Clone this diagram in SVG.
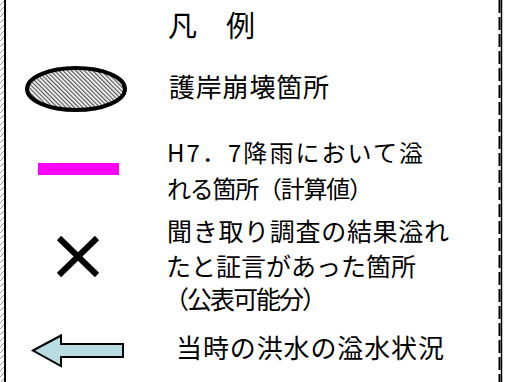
<svg xmlns="http://www.w3.org/2000/svg" width="506" height="382" viewBox="0 0 506 382">
  <style>
    .t { font-family: "Noto Sans CJK JP", "Liberation Sans", sans-serif; fill: #000; }
  </style>
  <defs>
    <pattern id="hatch" width="3" height="3" patternUnits="userSpaceOnUse" patternTransform="rotate(-45)">
      <rect width="3" height="3" fill="#ffffff"/>
      <line x1="0.7" y1="0" x2="0.7" y2="3" stroke="#3a3a3a" stroke-width="1.1"/>
    </pattern>
    <pattern id="maptex" width="4" height="6" patternUnits="userSpaceOnUse">
      <rect width="4" height="6" fill="#ffffff"/>
      <line x1="0" y1="5" x2="4" y2="1" stroke="#555" stroke-width="0.6"/>
    </pattern>
  </defs>
  <rect width="506" height="382" fill="#ffffff"/>
  <g id="frame">
    <rect x="0" y="0" width="4" height="382" fill="url(#maptex)"/>
    <line x1="5" y1="0" x2="5" y2="382" stroke="#000" stroke-width="2"/>
    <line x1="501.5" y1="0" x2="501.5" y2="382" stroke="#000" stroke-width="1.5"/>
    <line x1="499.5" y1="0" x2="499.5" y2="382" stroke="#000" stroke-width="2" stroke-dasharray="13 4"/>
  </g>
  <g id="title">
    <text class="t" x="168" y="36.5" font-size="29">凡　例</text>
  </g>
  <g id="item-revetment">
    <ellipse cx="76" cy="89" rx="49" ry="21" fill="url(#hatch)" stroke="#000" stroke-width="4"/>
    <text class="t" x="169" y="96.5" font-size="26" textLength="160" lengthAdjust="spacing">護岸崩壊箇所</text>
  </g>
  <g id="item-overflow-calc">
    <rect x="38" y="163" width="81" height="12" fill="#ff00ff"/>
    <text class="t" x="167" y="161.5" font-size="24" textLength="256" lengthAdjust="spacing">H7．7降雨において溢</text>
    <text class="t" x="167" y="197.5" font-size="24" textLength="206" lengthAdjust="spacing">れる箇所（計算値）</text>
  </g>
  <g id="item-testimony">
    <line x1="59" y1="238" x2="97" y2="275" stroke="#000" stroke-width="6"/>
    <line x1="97" y1="238" x2="59" y2="275" stroke="#000" stroke-width="6"/>
    <text class="t" x="167" y="241" font-size="25" textLength="282" lengthAdjust="spacing">聞き取り調査の結果溢れ</text>
    <text class="t" x="166" y="275.5" font-size="25" textLength="250" lengthAdjust="spacing">たと証言があった箇所</text>
    <text class="t" x="164" y="308.5" font-size="25" textLength="163" lengthAdjust="spacing">（公表可能分）</text>
  </g>
  <g id="item-flood-arrow">
    <polygon points="33,350.5 61,335.5 61,344 123,344 123,357 61,357 61,366" fill="#b7dde3" stroke="#000" stroke-width="2" stroke-linejoin="miter"/>
    <text class="t" x="176" y="358" font-size="26" textLength="268" lengthAdjust="spacing">当時の洪水の溢水状況</text>
  </g>
</svg>
